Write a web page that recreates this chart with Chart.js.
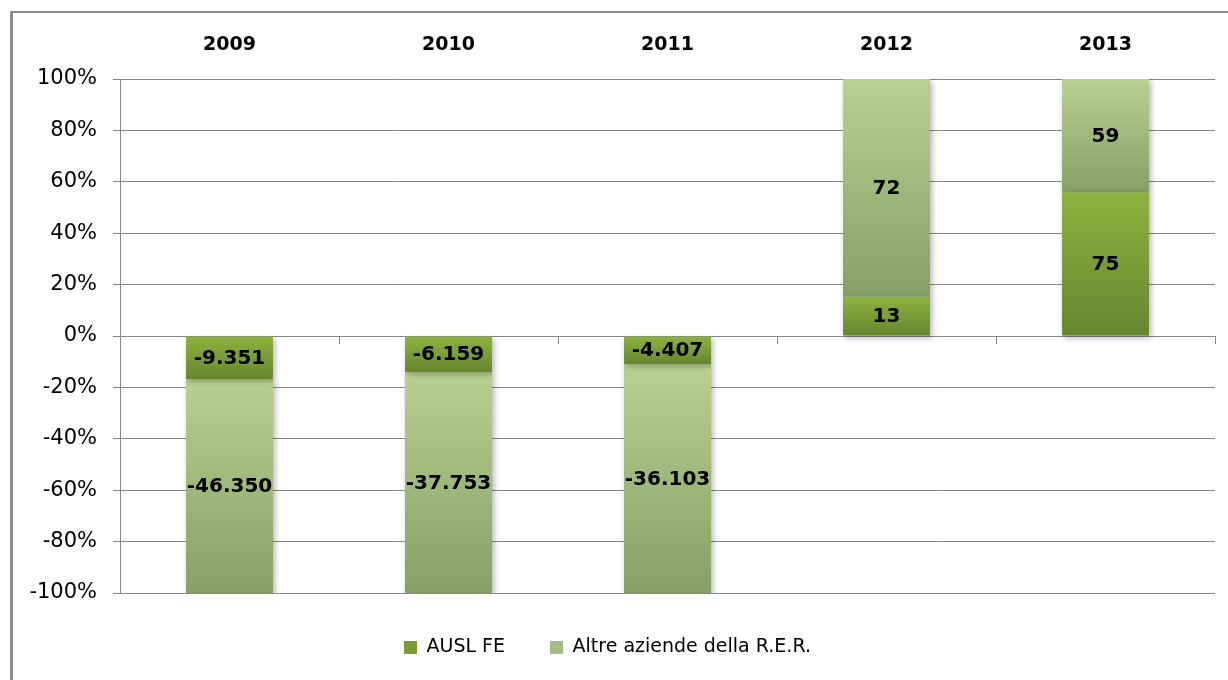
<!DOCTYPE html>
<html>
<head>
<meta charset="utf-8">
<script src="https://cdn.jsdelivr.net/npm/chart.js@4.4.1/dist/chart.umd.min.js"></script>
<style>
body{margin:0;background:#fff;}
#wrap{position:relative;width:1228px;height:680px;overflow:hidden;}
#frame{position:absolute;left:10px;top:11px;width:1300px;height:800px;border:2px solid #8c8c8c;border-left-width:3px;pointer-events:none;}
</style>
</head>
<body>
<div id="wrap"><canvas id="myChart" width="1228" height="680"></canvas><div id="frame"></div></div>
<script>
const anni = ['2009', '2010', '2011', '2012', '2013'];
const auslFe = [-9351, -6159, -4407, 13, 75];
const altreAziende = [-46350, -37753, -36103, 72, 59];
const yTicks = [-100, -80, -60, -40, -20, 0, 20, 40, 60, 80, 100];

// 100% stacked: share of each value on the year total
function perc(v, i){
  const tot = Math.abs(auslFe[i]) + Math.abs(altreAziende[i]);
  return v / tot * 100;
}
function fmt(v){
  const s = Math.abs(v).toString().replace(/\B(?=(\d{3})+(?!\d))/g, '.');
  return (v < 0 ? '-' : '') + s;
}

const colori = [
  { top: '#8db33f', bottom: '#66862e', solid: '#7a9d36' },
  { top: '#b8d190', bottom: '#86a066', solid: '#a3bd80' }
];

function sfondo(c){
  const col = colori[c.datasetIndex];
  if (c.type !== 'data') return col.solid;
  const chart = c.chart;
  if (!chart.chartArea || !chart.scales.y) return col.solid;
  const i = c.dataIndex;
  const p0 = perc(auslFe[i], i);
  let a = 0, b = p0;
  if (c.datasetIndex === 1) { a = p0; b = p0 + perc(altreAziende[i], i); }
  const y = chart.scales.y;
  const yt = y.getPixelForValue(Math.max(a, b));
  const yb = y.getPixelForValue(Math.min(a, b));
  if (!isFinite(yt) || !isFinite(yb) || yt === yb) return col.solid;
  const g = chart.ctx.createLinearGradient(0, yt, 0, yb);
  g.addColorStop(0, col.top);
  g.addColorStop(1, col.bottom);
  return g;
}

const ombra = {
  id: 'ombra',
  beforeDatasetsDraw(chart){
    const ctx = chart.ctx;
    ctx.save();
    ctx.shadowColor = 'rgba(0,0,0,0.3)';
    ctx.shadowBlur = 6;
    ctx.shadowOffsetX = 2;
    ctx.shadowOffsetY = 2;
  },
  afterDatasetsDraw(chart){
    chart.ctx.restore();
  }
};

const extra = {
  id: 'extra',
  afterDraw(chart){
    const ctx = chart.ctx;
    const y = chart.scales.y;
    const y0 = y.getPixelForValue(0);
    // tick marks on the zero line
    ctx.save();
    ctx.strokeStyle = '#878787';
    ctx.lineWidth = 1;
    const w = (chart.chartArea.right - chart.chartArea.left) / anni.length;
    for (let k = 1; k <= anni.length; k++) {
      const px = Math.round(chart.chartArea.left + k * w) + 0.5;
      ctx.beginPath();
      ctx.moveTo(px, y0);
      ctx.lineTo(px, y0 + 8);
      ctx.stroke();
    }
    // value labels
    ctx.fillStyle = '#000';
    ctx.font = 'bold 20px "DejaVu Sans"';
    ctx.textAlign = 'center';
    ctx.textBaseline = 'middle';
    chart.data.datasets.forEach((ds, d) => {
      const meta = chart.getDatasetMeta(d);
      meta.data.forEach((el, i) => {
        const raw = d === 0 ? auslFe[i] : altreAziende[i];
        ctx.fillText(fmt(raw), el.x, (el.y + el.base) / 2 + 1);
      });
    });
    ctx.restore();
  }
};

const ctx = document.getElementById('myChart');

let cc = new Chart(ctx, {
  type: 'bar',
  data: {
    labels: anni,
    datasets: [
      {
        label: 'AUSL FE',
        data: auslFe.map((v, i) => perc(v, i)),
        backgroundColor: sfondo,
        barPercentage: 1,
        categoryPercentage: 0.397
      },
      {
        label: 'Altre aziende della R.E.R.',
        data: altreAziende.map((v, i) => perc(v, i)),
        backgroundColor: sfondo,
        barPercentage: 1,
        categoryPercentage: 0.397
      }
    ]
  },
  options: {
    responsive: false,
    animation: false,
    layout: { padding: { left: 0, right: 13, top: 0, bottom: 13 } },
    scales: {
      x: {
        position: 'top',
        stacked: true,
        grid: { display: false, drawTicks: false },
        border: { display: false },
        ticks: {
          color: '#000',
          padding: 23,
          font: { family: 'DejaVu Sans', size: 19, weight: 'bold' }
        },
        afterFit: s => { s.height = 79; }
      },
      y: {
        stacked: true,
        min: -100,
        max: 100,
        grid: { color: '#878787', tickLength: 7 },
        border: { color: '#878787' },
        afterBuildTicks: s => { s.ticks = yTicks.map(v => ({ value: v })); },
        afterFit: s => { s.width = 120; },
        ticks: {
          color: '#000',
          padding: 16,
          font: { family: 'DejaVu Sans', size: 21 },
          callback: v => v + '%'
        }
      }
    },
    plugins: {
      legend: {
        position: 'bottom',
        labels: {
          boxWidth: 13,
          boxHeight: 13,
          padding: 45,
          color: '#000',
          font: { family: 'DejaVu Sans', size: 19 },
          generateLabels: chart => {
            const items = Chart.defaults.plugins.legend.labels.generateLabels(chart);
            items.forEach((it, k) => {
              it.fillStyle = colori[k].solid;
              it.strokeStyle = colori[k].solid;
              it.lineWidth = 0;
            });
            return items;
          }
        }
      },
      tooltip: { enabled: false }
    }
  },
  plugins: [ombra, extra]
});
</script>
</body>
</html>
